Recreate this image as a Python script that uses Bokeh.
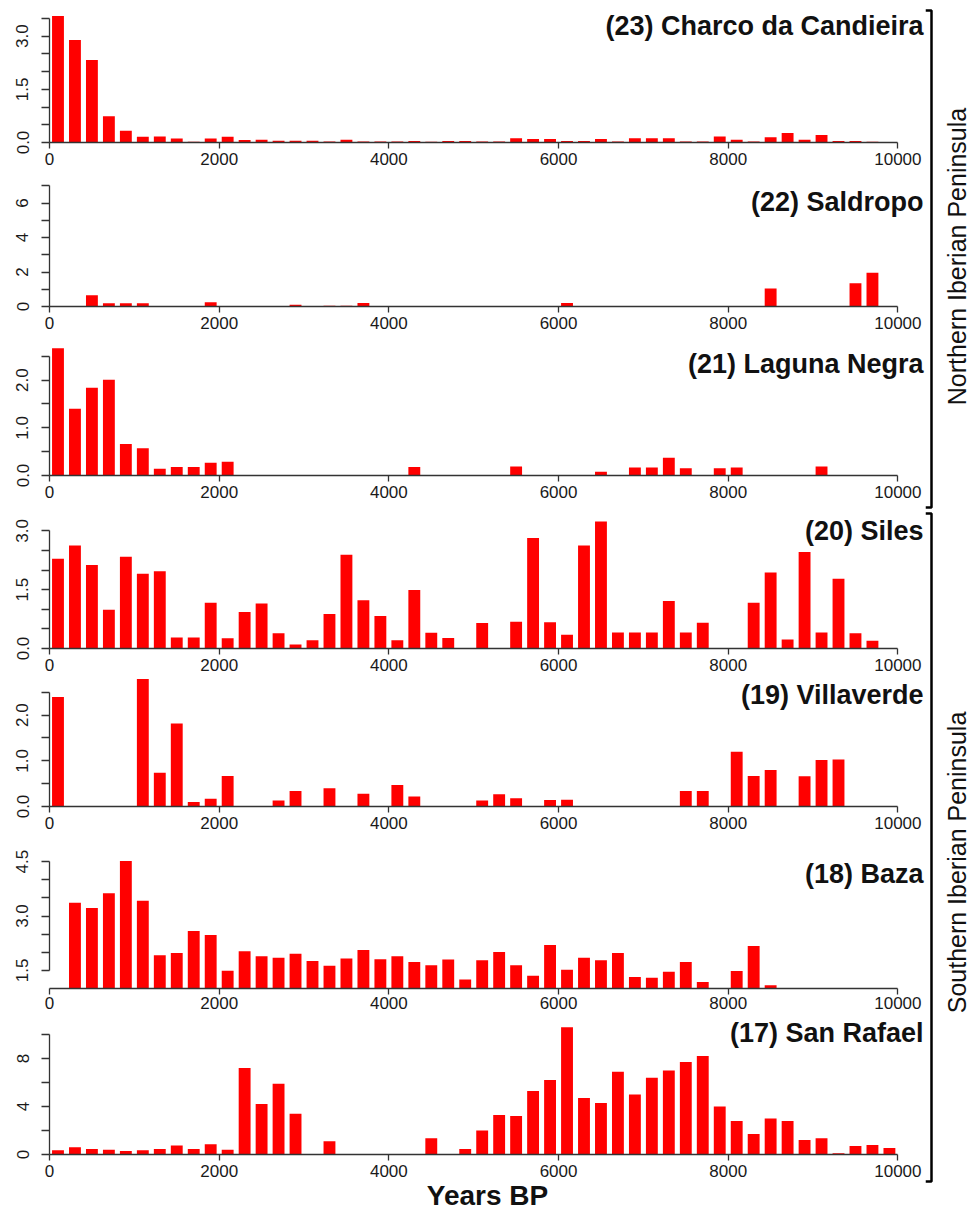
import math
from bokeh.plotting import figure
from bokeh.models import Range1d, FixedTicker, PrintfTickFormatter
from bokeh.layouts import row, column
from bokeh.embed import file_html
from bokeh.resources import INLINE
from bokeh.core.properties import value

# ---------------- data ----------------
years = [100, 300, 500, 700, 900, 1100, 1300, 1500, 1700, 1900,
         2100, 2300, 2500, 2700, 2900, 3100, 3300, 3500, 3700, 3900,
         4100, 4300, 4500, 4700, 4900, 5100, 5300, 5500, 5700, 5900,
         6100, 6300, 6500, 6700, 6900, 7100, 7300, 7500, 7700, 7900,
         8100, 8300, 8500, 8700, 8900, 9100, 9300, 9500, 9700, 9900]

x_ticks = [0, 2000, 4000, 6000, 8000, 10000]

charco = [3.57, 2.89, 2.33, 0.74, 0.33, 0.16, 0.17, 0.11, 0.02, 0.11,
          0.16, 0.07, 0.08, 0.05, 0.05, 0.05, 0.03, 0.08, 0.03, 0.03,
          0.03, 0.04, 0.02, 0.04, 0.04, 0.03, 0.03, 0.12, 0.10, 0.10,
          0.04, 0.04, 0.10, 0.03, 0.12, 0.12, 0.12, 0.03, 0.03, 0.17,
          0.08, 0.03, 0.15, 0.27, 0.08, 0.21, 0.04, 0.04, 0.02, 0.00]

saldropo = [0, 0, 0.65, 0.19, 0.19, 0.19, 0, 0, 0, 0.25,
            0, 0, 0, 0, 0.10, 0, 0.05, 0.05, 0.21, 0,
            0, 0, 0, 0, 0, 0, 0, 0, 0, 0,
            0.21, 0, 0, 0, 0, 0, 0, 0, 0, 0,
            0, 0, 1.04, 0, 0, 0, 0, 1.35, 1.96, 0]

laguna = [2.67, 1.40, 1.84, 2.01, 0.66, 0.57, 0.14, 0.18, 0.18, 0.27,
          0.29, 0, 0, 0, 0, 0, 0, 0, 0, 0,
          0, 0.18, 0, 0, 0, 0, 0, 0.19, 0, 0,
          0, 0, 0.08, 0, 0.17, 0.17, 0.37, 0.15, 0, 0.15,
          0.17, 0, 0, 0, 0, 0.19, 0, 0, 0, 0]

siles = [2.29, 2.63, 2.13, 0.99, 2.34, 1.91, 1.97, 0.28, 0.28, 1.17,
         0.26, 0.93, 1.15, 0.39, 0.10, 0.21, 0.88, 2.39, 1.23, 0.83,
         0.21, 1.49, 0.40, 0.27, 0, 0.65, 0, 0.68, 2.82, 0.67,
         0.35, 2.63, 3.24, 0.41, 0.41, 0.41, 1.21, 0.41, 0.66, 0,
         0, 1.17, 1.94, 0.23, 2.46, 0.41, 1.78, 0.39, 0.20, 0]

villaverde = [2.40, 0, 0, 0, 0, 2.79, 0.74, 1.82, 0.10, 0.17,
              0.67, 0, 0, 0.13, 0.34, 0, 0.40, 0, 0.28, 0,
              0.47, 0.22, 0, 0, 0, 0.13, 0.27, 0.18, 0, 0.14,
              0.15, 0, 0, 0, 0, 0, 0, 0.34, 0.34, 0,
              1.20, 0.67, 0.80, 0, 0.66, 1.02, 1.03, 0, 0, 0]

baza = [0, 3.37, 3.22, 3.63, 4.52, 3.42, 1.92, 1.98, 2.59, 2.48,
        1.49, 2.03, 1.89, 1.85, 1.96, 1.76, 1.63, 1.83, 2.06, 1.81,
        1.89, 1.73, 1.64, 1.80, 1.25, 1.78, 2.01, 1.64, 1.35, 2.20,
        1.52, 1.85, 1.78, 1.98, 1.32, 1.30, 1.46, 1.73, 1.18, 0,
        1.48, 2.17, 1.09, 0, 0, 0, 0, 0, 0, 0]

san_rafael = [0.35, 0.60, 0.45, 0.40, 0.30, 0.35, 0.45, 0.75, 0.45, 0.85,
              0.40, 7.20, 4.20, 5.90, 3.40, 0, 1.10, 0, 0, 0,
              0, 0, 1.35, 0, 0.45, 2.00, 3.30, 3.20, 5.30, 6.20,
              10.60, 4.70, 4.30, 6.90, 5.00, 6.40, 7.00, 7.70, 8.20, 4.00,
              2.80, 1.70, 3.00, 2.80, 1.20, 1.35, 0.10, 0.70, 0.80, 0.55]

titles = ["(23) Charco da Candieira", "(22) Saldropo", "(21) Laguna Negra",
          "(20) Siles", "(19) Villaverde", "(18) Baza", "(17) San Rafael"]
series = [charco, saldropo, laguna, siles, villaverde, baza, san_rafael]

y_major = [[0.0, 1.5, 3.0], [0, 2, 4, 6], [0.0, 1.0, 2.0], [0.0, 1.5, 3.0],
           [0.0, 1.0, 2.0], [1.5, 3.0, 4.5], [0, 4, 8]]
y_minor = [[0.5, 1.0, 2.0, 2.5, 3.5], [1, 3, 5, 7], [0.5, 1.5, 2.5],
           [0.5, 1.0, 2.0, 2.5], [0.5, 1.5, 2.5], [2.0, 2.5, 3.5, 4.0], [2, 6, 10]]
y_bounds = [(0, 3.5), (0, 7), (0, 2.5), (0, 3.0), (0, 2.5), (1.5, 4.5), (0, 10)]
y_fmt = ["%.1f", "%d", "%.1f", "%.1f", "%.1f", "%.1f", "%d"]
y_base = [0, 0, 0, 0, 0, 1.0, 0]

group_labels = ["Northern Iberian Peninsula", "Southern Iberian Peninsula"]

# ---------------- layout (pixels) ----------------
PX_PER_YEAR = 0.08484
LEFT = 49
MAIN_W = 925
X_END = (MAIN_W - LEFT) / PX_PER_YEAR
TITLE_X = (923 - LEFT) / PX_PER_YEAR
BAR_W = 140

px_per_unit = [35.45, 17.24, 47.67, 39.2, 45.67, 36.23, 12.0]
border_top = [10, 8, 4, 7, 0, 19, 2]
frame_h = [132, 126, 135, 136, 128, 133, 136]
border_bot = [30, 30, 30, 30, 30, 28, 62]
x_standoff = [4, 4, 4, 4, 4, 2, 4]
title_mid_off = [117, 105, 112, 118, 112, 115, 122]  # px from x axis up to title middle

AX = "#333333"
FONT = "Liberation Sans"

figs = []
for k in range(7):
    s = px_per_unit[k]
    b = y_base[k]
    y_end = b + frame_h[k] / s
    h = border_top[k] + frame_h[k] + border_bot[k]
    p = figure(width=MAIN_W, height=h, x_range=Range1d(0, X_END),
               y_range=Range1d(b, y_end), output_backend="svg",
               toolbar_location=None, min_border_left=LEFT, min_border_right=0,
               min_border_top=border_top[k], min_border_bottom=border_bot[k])
    p.outline_line_color = None
    p.xgrid.grid_line_color = None
    p.ygrid.grid_line_color = None
    p.background_fill_color = "white"
    p.border_fill_color = "white"

    xs = [x for x, v in zip(years, series[k]) if v > b]
    vs = [v for v in series[k] if v > b]
    p.vbar(x=xs, top=vs, bottom=b, width=BAR_W, fill_color="#FF0000", line_color=None)

    p.text(x=[TITLE_X], y=[b + title_mid_off[k] / s], text=[titles[k]],
           text_align="right", text_baseline="middle",
           text_font=value(FONT), text_font_style="bold",
           text_font_size="27px", text_color="#111111")

    xa = p.xaxis[0]
    xa.ticker = FixedTicker(ticks=x_ticks)
    xa.bounds = (0, 10000)
    xa.formatter = PrintfTickFormatter(format="%d")
    xa.major_label_text_font = FONT
    xa.major_label_text_font_size = "17px"
    xa.major_label_text_color = "#1a1a1a"
    xa.major_label_standoff = x_standoff[k]
    xa.major_tick_out = 6
    xa.major_tick_in = 0
    xa.minor_tick_line_color = None
    xa.axis_line_color = AX
    xa.axis_line_width = 1.3
    xa.major_tick_line_color = AX
    xa.major_tick_line_width = 1.3

    ya = p.yaxis[0]
    ya.ticker = FixedTicker(ticks=y_major[k], minor_ticks=y_minor[k])
    ya.bounds = y_bounds[k]
    ya.formatter = PrintfTickFormatter(format=y_fmt[k])
    ya.major_label_orientation = "vertical"
    ya.major_label_text_font = FONT
    ya.major_label_text_font_size = "17px"
    ya.major_label_text_color = "#1a1a1a"
    ya.major_label_standoff = 13
    ya.major_tick_out = 8
    ya.major_tick_in = 0
    ya.minor_tick_out = 8
    ya.minor_tick_in = 0
    ya.axis_line_color = AX
    ya.axis_line_width = 1.3
    ya.major_tick_line_color = AX
    ya.major_tick_line_width = 1.3
    ya.minor_tick_line_color = AX
    ya.minor_tick_line_width = 1.3

    if k == 6:
        xa.axis_label = "Years BP"
        xa.axis_label_text_font = FONT
        xa.axis_label_text_font_style = "bold"
        xa.axis_label_text_font_size = "28px"
        xa.axis_label_text_color = "#111111"
        xa.axis_label_standoff = 0
    figs.append(p)

total_h = sum(border_top[k] + frame_h[k] + border_bot[k] for k in range(7))
RIGHT_W = 969 - MAIN_W

r = figure(width=RIGHT_W, height=total_h, x_range=Range1d(0, RIGHT_W),
           y_range=Range1d(0, total_h), output_backend="svg",
           toolbar_location=None, min_border=0)
r.axis.visible = False
r.xgrid.grid_line_color = None
r.ygrid.grid_line_color = None
r.outline_line_color = None
r.background_fill_color = "white"
r.border_fill_color = "white"

BR_X = 6
brackets = [(10, 507), (513, 1181)]
label_centers = [256, 862]
for (t, btm), lab, c in zip(brackets, group_labels, label_centers):
    r.line(x=[0, BR_X, BR_X, 0], y=[total_h - t, total_h - t, total_h - btm, total_h - btm],
           line_width=2.5, line_color="black")
    r.text(x=[31], y=[total_h - c], text=[lab], angle=math.pi / 2,
           text_align="center", text_baseline="middle",
           text_font=value(FONT), text_font_size="25px", text_color="#111111")

layout = row(column(*figs), r)
open("out.html", "w").write(file_html(layout, INLINE))
